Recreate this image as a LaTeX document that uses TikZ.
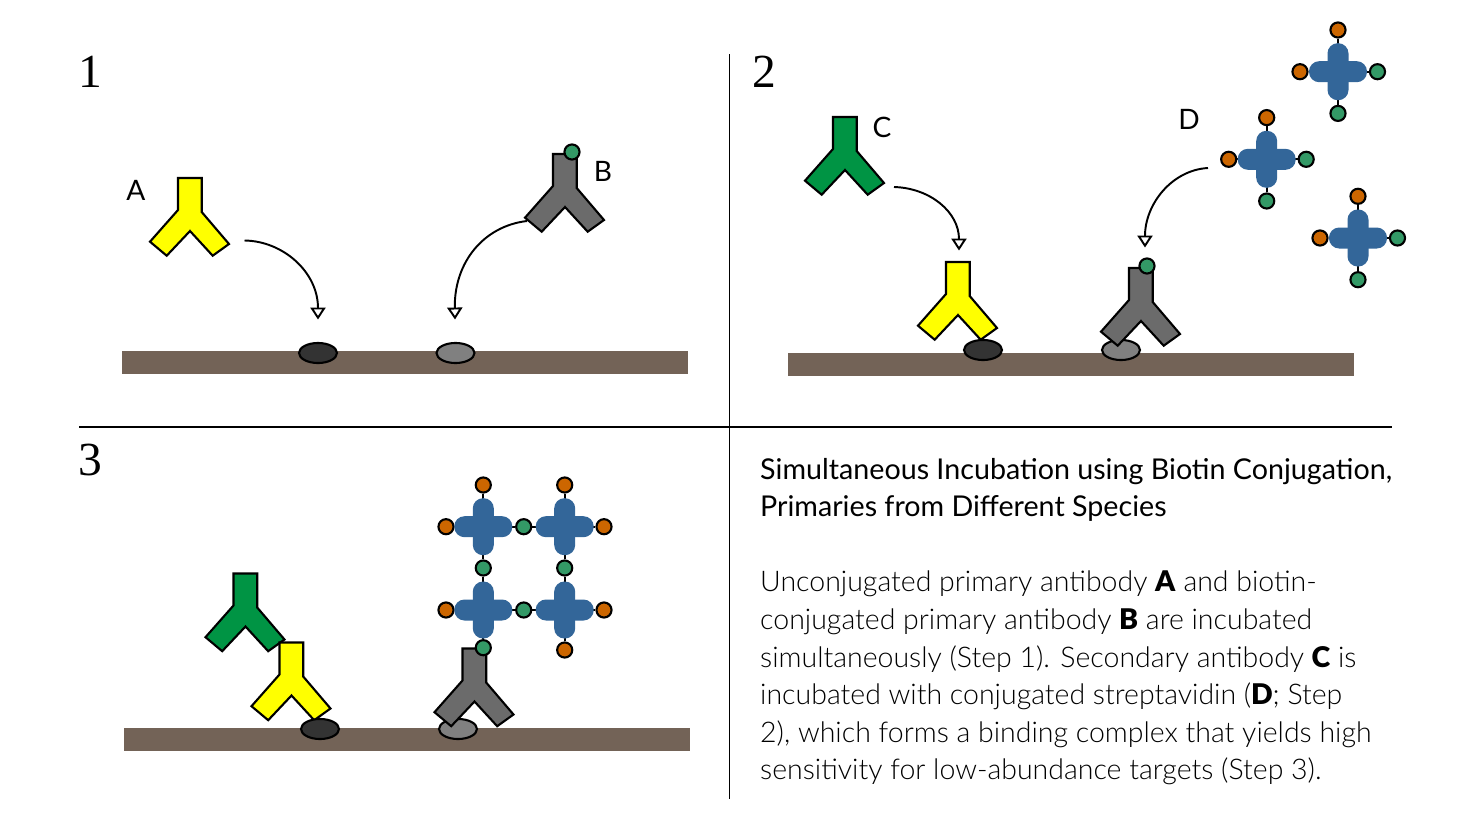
\documentclass[tikz,border=0pt]{standalone}
\usepackage{fontspec}
\usepackage{tikz}
\usetikzlibrary{arrows.meta,shapes.geometric}
\setmainfont{Lato}[UprightFont={* Light},BoldFont={* Black}]
\newfontfamily\titlefont{Lato}
\newfontfamily\numfont{Liberation Serif}
\definecolor{abyellow}{HTML}{FFFF00}
\definecolor{abgreen}{HTML}{009444}
\definecolor{abgrey}{HTML}{6B6B6B}
\definecolor{groundbrown}{HTML}{736357}
\definecolor{spotdark}{HTML}{333333}
\definecolor{spotlight}{HTML}{808080}
\definecolor{strepblue}{HTML}{336699}
\definecolor{biotgreen}{HTML}{339966}
\definecolor{fluororange}{HTML}{CC6600}
\tikzset{
  abody/.style={draw=black, line width=0.6pt, line join=miter},
  spot/.style={ellipse, draw=black, line width=0.6pt, minimum width=10.8pt, minimum height=5.7pt, inner sep=0pt},
  ball/.style={circle, draw=black, line width=0.6pt, minimum size=4.3pt, inner sep=0pt},
  stub/.style={line width=0.6pt},
  rule/.style={line width=0.55pt},
  bar/.style={fill=strepblue, rounded corners=2.9pt},
  flow/.style={line width=0.55pt, -{Triangle[open, length=3.4pt, width=4.3pt]}},
  lab/.style={font=\titlefont\fontsize{8}{9}\selectfont, inner sep=0pt},
  num/.style={font=\numfont\fontsize{13.5}{15}\selectfont, inner sep=0pt}
}
\begin{document}
\begin{tikzpicture}[x=0.01cm, y=-0.01cm]
    \useasboundingbox (0,0) rectangle (1459,833);

    % Draw the panel rules
    \coordinate (vtop) at (729.5,54);
    \coordinate (vbot) at (729.5,799);
    \coordinate (hleft) at (79,427);
    \coordinate (hright) at (1392,427);
    \draw[rule] (vtop) -- (vbot);
    \draw[rule] (hleft) -- (hright);

    % Draw the step numbers and the letters
    \node[num] (numa) at (90,72) {1};
    \node[num] (numb) at (764.5,72) {2};
    \node[num] (numc) at (90,460) {3};
    \node[lab] (laba) at (136,190) {A};
    \node[lab] (labb) at (603,171) {B};
    \node[lab] (labc) at (882,127) {C};
    \node[lab] (labd) at (1189,119) {D};

    % Draw the slides
    \foreach \x/\y in {122/351, 788/353, 124/728} {
        \fill[groundbrown] (\x,\y) rectangle ++(565.5,22.5);
    }

    % Draw the light targets below the antibodies
    \node[spot, fill=spotlight] (lightone) at (455.5,353) {};
    \node[spot, fill=spotlight] (lighttwo) at (1121,350) {};
    \node[spot, fill=spotlight] (lightthree) at (458,729) {};

    % Draw the antibodies, the first number is the corner of the stem
    \foreach \x/\y/\c in {178/178/abyellow, 553/154/abgrey, 833/117/abgreen, 946/262/abyellow, 1129/268/abgrey, 233.5/573.5/abgreen, 279.5/642.5/abyellow, 462.5/648.5/abgrey} {
        \begin{scope}[shift={(\x,\y)}]
            \draw[abody, fill=\c] (0,0) -- (23.7,0) -- (23.7,34) -- (51,66) -- (34.7,77.7) -- (12,53) -- (-11.3,77.7) -- (-28,63.7) -- (0,32) -- cycle;
        \end{scope}
    }

    % Draw the dark targets
    \node[spot, fill=spotdark] (darkone) at (318,353) {};
    \node[spot, fill=spotdark] (darktwo) at (983,350) {};
    \node[spot, fill=spotdark] (darkthree) at (320,729) {};

    % Draw the biotin on the grey antibodies
    \node[ball, fill=biotgreen] (biotone) at (572,152) {};
    \node[ball, fill=biotgreen] (biottwo) at (1147,266) {};

    % Draw the free streptavidin crosses of step 2
    \foreach \nm/\x/\y/\ct/\cr/\cb/\cl in {sa/1338/71.7/fluororange/biotgreen/biotgreen/fluororange, sb/1266.7/159.3/fluororange/biotgreen/biotgreen/fluororange, sc/1358/238/fluororange/biotgreen/biotgreen/fluororange} {
        \begin{scope}[shift={(\x,\y)}]
            \coordinate (\nm) at (0,0);
            \node[ball, fill=\ct] (\nm t) at (0,-41.7) {};
            \node[ball, fill=\cr] (\nm r) at (39.5,0) {};
            \node[ball, fill=\cb] (\nm b) at (0,41.7) {};
            \node[ball, fill=\cl] (\nm l) at (-38,0) {};
            \foreach \s in {t,r,b,l} {
                \draw[stub] (\nm) -- (\nm \s);
            }
            \fill[bar] (-10.5,-28.5) rectangle (10.5,28.5);
            \fill[bar] (-29,-10.5) rectangle (29,10.5);
        \end{scope}
    }

    % Draw the complex of step 3
    \foreach \nm/\x/\y in {ma/483.3/526.7, mb/564.7/526.7, mc/483.3/610, md/564.7/610} {
        \coordinate (\nm) at (\x,\y);
    }
    \foreach \nm/\x/\y/\c in {oa/483.3/485/fluororange, ob/564.7/485/fluororange, oc/446/526.7/fluororange, od/446/610/fluororange, oe/604/526.7/fluororange, of/604/610/fluororange, og/564.7/650/fluororange, ga/523.7/526.7/biotgreen, gb/523.7/610/biotgreen, gc/483.3/568/biotgreen, gd/564.7/568/biotgreen, ge/483.3/647.7/biotgreen} {
        \node[ball, fill=\c] (\nm) at (\x,\y) {};
    }
    \foreach \a/\b in {ma/oa, ma/oc, ma/ga, ma/gc, mb/ob, mb/oe, mb/ga, mb/gd, mc/od, mc/gb, mc/gc, mc/ge, md/of, md/gb, md/gd, md/og} {
        \draw[stub] (\a) -- (\b);
    }
    \foreach \x/\y in {483.3/526.7, 564.7/526.7, 483.3/610, 564.7/610} {
        \begin{scope}[shift={(\x,\y)}]
            \fill[bar] (-10.5,-28.5) rectangle (10.5,28.5);
            \fill[bar] (-29,-10.5) rectangle (29,10.5);
        \end{scope}
    }

    % Draw the curved arrows
    \coordinate (froma) at (244.5,240.5);
    \coordinate (toa) at (318,319.5);
    \coordinate (fromb) at (527,221);
    \coordinate (tob) at (455,319.5);
    \coordinate (fromc) at (894,187);
    \coordinate (toc) at (959,250.5);
    \coordinate (fromd) at (1208,168);
    \coordinate (tod) at (1145,247.5);
    \draw[flow] (froma) .. controls (283,241) and (318,272) .. (toa);
    \draw[flow] (fromb) .. controls (484,226) and (454,262) .. (tob);
    \draw[flow] (fromc) .. controls (930,188) and (959,212) .. (toc);
    \draw[flow] (fromd) .. controls (1172,170) and (1145,204) .. (tod);

    % Draw the caption
    \node[anchor=north west, inner sep=0pt, align=left, font=\titlefont\fontsize{8.15}{10.67}\selectfont] (capttl) at (759.5,457.5)
        {Simultaneous Incubation using Biotin Conjugation,\\Primaries from Different Species};
    \node[anchor=north west, inner sep=0pt, align=left, font=\fontsize{8.1}{10.67}\selectfont] (captxt) at (759.5,570.5)
        {Unconjugated primary antibody \textbf{A} and biotin-\\conjugated primary antibody \textbf{B} are incubated\\simultaneously (Step 1). Secondary antibody \textbf{C} is\\incubated with conjugated streptavidin (\textbf{D}; Step\\2), which forms a binding complex that yields high\\sensitivity for low-abundance targets (Step 3).};
\end{tikzpicture}
\end{document}
